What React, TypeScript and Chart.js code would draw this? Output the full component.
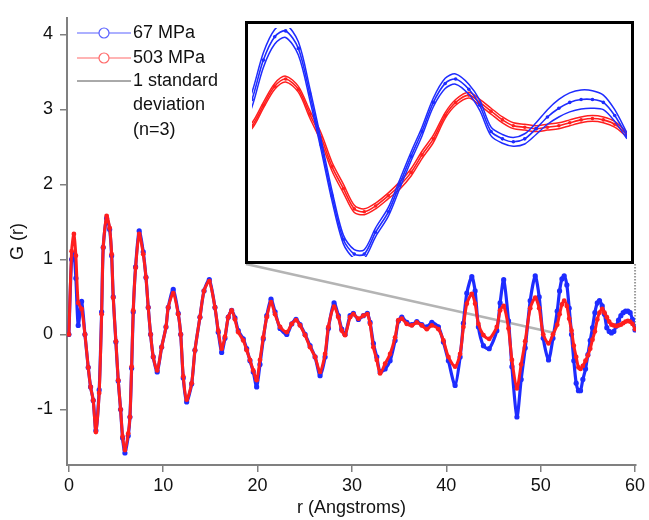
import React, { useEffect, useRef } from "react";
import { Chart, registerables } from "chart.js";
Chart.register(...registerables);

// r (Angstroms)
const rValues = [
  0, 0.29, 0.53, 0.74, 0.99, 1.35, 1.7, 2.05, 2.3, 2.58, 2.86, 3.21, 3.47, 3.64, 4.0, 4.32, 4.53, 4.7, 4.98, 5.23,
  5.48, 5.69, 5.94, 6.29, 6.47, 6.65, 6.82, 7.07, 7.45, 7.88, 8.17, 8.41, 8.66, 8.94, 9.36, 9.83, 10.29, 10.53, 11.06, 11.59,
  11.85, 12.12, 12.48, 13.01, 13.36, 13.89, 14.32, 14.88, 15.48, 15.83, 16.19, 16.54, 16.89, 17.25, 17.6, 17.95, 18.48, 18.84, 19.19, 19.54,
  19.9, 20.25, 20.6, 20.97, 21.42, 21.85, 22.38, 23.09, 23.62, 24.07, 24.5, 25.03, 25.56, 26.09, 26.62, 27.15, 27.5, 28.1, 28.56, 28.92,
  29.27, 29.8, 30.15, 30.68, 31.21, 31.63, 31.92, 32.27, 32.63, 32.98, 33.51, 34.04, 34.57, 34.92, 35.28, 35.81, 36.34, 36.87, 37.4, 37.93,
  38.46, 39.16, 39.69, 40.22, 40.93, 41.46, 41.81, 42.17, 42.7, 43.05, 43.4, 43.93, 44.54, 45.35, 45.7, 46.08, 46.59, 46.95, 47.48, 47.93,
  48.36, 48.89, 49.42, 49.84, 50.27, 50.83, 51.3, 51.75, 52.0, 52.25, 52.49, 52.77, 53.02, 53.27, 53.51, 53.76, 54.0, 54.22, 54.47, 54.75,
  55.0, 55.25, 55.49, 55.74, 56.0, 56.23, 56.52, 56.76, 57.01, 57.26, 57.5, 57.75, 58.0, 58.25, 58.5, 58.74, 58.99, 59.24, 59.48, 59.73, 60.0,
];

// G(r) at 67 MPa (blue)
const blue67 = [
  0, 1.0, 1.08, 0.75, 0.12, 0.44, 0.0, -0.44, -0.7, -0.88, -1.28, -0.74, 0.3, 1.16, 1.55, 1.4, 1.05, 0.5, -0.1, -0.62,
  -1.0, -1.38, -1.58, -1.35, -1.1, -0.45, 0.3, 0.9, 1.38, 1.1, 0.76, 0.36, 0.0, -0.3, -0.5, -0.17, 0.1, 0.36, 0.6, 0.28,
  0.0, -0.58, -0.9, -0.66, -0.21, 0.23, 0.58, 0.73, 0.36, 0.03, -0.24, -0.05, 0.23, 0.32, 0.22, 0.05, -0.06, -0.19, -0.35, -0.5,
  -0.7, -0.4, -0.06, 0.25, 0.47, 0.3, 0.08, 0.0, 0.14, 0.2, 0.13, 0.0, -0.15, -0.3, -0.55, -0.3, 0.08, 0.42, 0.25, 0.07,
  0.0, 0.25, 0.28, 0.2, 0.25, 0.28, 0.16, -0.12, -0.3, -0.5, -0.46, -0.35, -0.08, 0.18, 0.23, 0.16, 0.13, 0.17, 0.13, 0.1,
  0.16, 0.1, -0.1, -0.35, -0.68, -0.3, 0.15, 0.55, 0.77, 0.58, 0.1, -0.15, -0.19, 0.05, 0.42, 0.73, 0.18, -0.43, -1.1, -0.6,
  -0.18, 0.45, 0.78, 0.5, -0.05, -0.34, -0.05, 0.31, 0.58, 0.74, 0.78, 0.66, 0.35, 0.0, -0.35, -0.65, -0.75, -0.75, -0.6, -0.46,
  -0.27, -0.08, 0.09, 0.29, 0.42, 0.45, 0.38, 0.27, 0.09, 0.04, 0.02, 0.04, 0.11, 0.19, 0.25, 0.29, 0.31, 0.31, 0.29, 0.2, 0.06,
];

// G(r) at 503 MPa (red)
const red503 = [
  0, 1.11, 1.34, 1.05, 0.42, 0.34, 0.0, -0.44, -0.7, -0.88, -1.3, -0.78, 0.27, 1.16, 1.58, 1.42, 1.07, 0.49, -0.09, -0.61,
  -1.0, -1.36, -1.54, -1.32, -1.1, -0.43, 0.32, 0.89, 1.34, 1.07, 0.76, 0.36, 0.0, -0.3, -0.48, -0.17, 0.1, 0.36, 0.55, 0.27,
  0.0, -0.56, -0.87, -0.65, -0.21, 0.23, 0.58, 0.71, 0.36, 0.05, -0.19, -0.03, 0.23, 0.32, 0.2, 0.03, -0.08, -0.21, -0.34, -0.48,
  -0.61, -0.34, -0.04, 0.23, 0.43, 0.27, 0.1, 0.03, 0.14, 0.19, 0.12, -0.01, -0.17, -0.3, -0.5, -0.26, 0.1, 0.37, 0.23, 0.05,
  -0.01, 0.23, 0.27, 0.21, 0.25, 0.27, 0.14, -0.17, -0.34, -0.52, -0.39, -0.26, -0.04, 0.19, 0.21, 0.14, 0.12, 0.16, 0.12, 0.07,
  0.12, 0.07, -0.08, -0.3, -0.43, -0.26, 0.1, 0.41, 0.54, 0.41, 0.14, -0.01, -0.06, 0.1, 0.32, 0.38, 0.08, -0.34, -0.72, -0.4,
  -0.09, 0.35, 0.49, 0.35, 0.0, -0.12, 0.0, 0.13, 0.27, 0.4, 0.45, 0.38, 0.21, 0.05, -0.15, -0.3, -0.44, -0.46, -0.42, -0.35,
  -0.28, -0.19, -0.07, 0.04, 0.2, 0.29, 0.34, 0.29, 0.23, 0.17, 0.13, 0.12, 0.11, 0.12, 0.13, 0.15, 0.17, 0.18, 0.17, 0.14, 0.07,
];

// 1 standard deviation (n=3) for the points shown in the inset (r >= insetFrom)
const insetFrom = 51.3;
const blueSd = [
  0.04, 0.05, 0.05, 0.05, 0.045, 0.045, 0.04, 0.035, 0.035, 0.03, 0.03, 0.03, 0.03, 0.03, 0.03, 0.03, 0.03, 0.03,
  0.035, 0.035, 0.035, 0.035, 0.03, 0.03, 0.03, 0.035, 0.04, 0.05, 0.06, 0.065, 0.065, 0.06, 0.05, 0.04, 0.02,
];
const redSd = [
  0.015, 0.02, 0.02, 0.02, 0.02, 0.02, 0.025, 0.03, 0.03, 0.03, 0.025, 0.02, 0.02, 0.02, 0.025, 0.025, 0.025, 0.025,
  0.02, 0.02, 0.02, 0.02, 0.02, 0.02, 0.02, 0.02, 0.02, 0.02, 0.02, 0.02, 0.02, 0.02, 0.02, 0.02, 0.015,
];

const xTicks = [0, 10, 20, 30, 40, 50, 60];
const yTicks = [-1, 0, 1, 2, 3, 4];
const seriesLabels = ["67 MPa", "503 MPa"];
const sdLabel = ["1 standard", "deviation", "(n=3)"];
const xTitle = "r (Angstroms)";
const yTitle = "G (r)";

const BLUE = "#1e2cff";
const RED = "#ff1e1e";
const FONT = "'Liberation Sans', Arial, sans-serif";
const INSET = { left: 245, top: 21, width: 383, height: 237, border: 3 };

export default function App() {
  const mainRef = useRef<HTMLCanvasElement>(null);
  const insetRef = useRef<HTMLCanvasElement>(null);

  useEffect(() => {
    document.body.style.margin = "0";
    Chart.defaults.font.family = FONT;

    const pts = (ys: number[]) => rValues.map((x, i) => ({ x, y: ys[i] }));

    const legendPlugin = {
      id: "customLegend",
      afterDraw(chart: any) {
        const ctx = chart.ctx;
        ctx.save();
        ctx.font = `18px ${FONT}`;
        ctx.textBaseline = "middle";
        ctx.fillStyle = "#111";
        const rows = [
          { y: 33, color: "#5a62ff", label: seriesLabels[0] },
          { y: 58, color: "#ff6a6a", label: seriesLabels[1] },
        ];
        rows.forEach((r) => {
          ctx.strokeStyle = r.color;
          ctx.lineWidth = 1.2;
          ctx.beginPath();
          ctx.moveTo(77, r.y);
          ctx.lineTo(131, r.y);
          ctx.stroke();
          ctx.beginPath();
          ctx.fillStyle = "#fff";
          ctx.arc(104, r.y, 5, 0, Math.PI * 2);
          ctx.fill();
          ctx.stroke();
          ctx.fillStyle = "#111";
          ctx.fillText(r.label, 133, r.y);
        });
        ctx.strokeStyle = "#555";
        ctx.lineWidth = 1;
        ctx.beginPath();
        ctx.moveTo(77, 81);
        ctx.lineTo(131, 81);
        ctx.stroke();
        sdLabel.forEach((t, i) => ctx.fillText(t, 133, 81 + i * 24.5));
        ctx.restore();
      },
    };

    const connectorPlugin = {
      id: "connector",
      beforeDatasetsDraw(chart: any) {
        const { ctx, scales } = chart;
        const x = scales.x;
        const y = scales.y;
        const bottom = INSET.top + INSET.height + 2 * INSET.border;
        ctx.save();
        ctx.strokeStyle = "#b4b4b4";
        ctx.lineWidth = 2.5;
        ctx.beginPath();
        ctx.moveTo(INSET.left + 1, bottom);
        ctx.lineTo(x.getPixelForValue(insetFrom + 0.2), y.getPixelForValue(0.02));
        ctx.stroke();
        ctx.strokeStyle = "#9a9a9a";
        ctx.lineWidth = 2;
        ctx.setLineDash([1.5, 1.5]);
        ctx.beginPath();
        ctx.moveTo(x.getPixelForValue(60), bottom);
        ctx.lineTo(x.getPixelForValue(60), y.getPixelForValue(0.05));
        ctx.stroke();
        ctx.restore();
      },
    };

    const axisCommon = {
      grid: { drawOnChartArea: false, tickLength: 7, color: "#808080", lineWidth: 1.5 },
      border: { color: "#808080", width: 2 },
    };

    const main = new Chart(mainRef.current!, {
      type: "line",
      data: {
        datasets: [
          {
            label: seriesLabels[1],
            data: pts(red503),
            borderColor: RED,
            backgroundColor: RED,
            borderWidth: 3,
            pointRadius: 2.4,
            pointBorderWidth: 0,
            tension: 0.25,
          },
          {
            label: seriesLabels[0],
            data: pts(blue67),
            borderColor: BLUE,
            backgroundColor: BLUE,
            borderWidth: 3.2,
            pointRadius: 2.6,
            pointBorderWidth: 0,
            tension: 0.25,
          },
        ],
      },
      options: {
        animation: false,
        responsive: false,
        events: [],
        layout: { padding: { left: 0, right: 13, top: 13, bottom: 0 } },
        plugins: { legend: { display: false }, tooltip: { enabled: false } },
        scales: {
          x: {
            type: "linear",
            min: -0.2,
            max: 60.1,
            afterBuildTicks: (s: any) => {
              s.ticks = xTicks.map((v) => ({ value: v }));
            },
            afterFit: (s: any) => {
              s.height = 55;
            },
            ticks: { font: { size: 18 }, color: "#111", padding: 3, maxRotation: 0, autoSkip: false },
            title: { display: true, text: xTitle, font: { size: 18 }, color: "#111", padding: { top: 0, bottom: 1 } },
            ...axisCommon,
          },
          y: {
            type: "linear",
            min: -1.74,
            max: 4.22,
            afterBuildTicks: (s: any) => {
              s.ticks = yTicks.map((v) => ({ value: v }));
            },
            afterFit: (s: any) => {
              s.width = 67;
            },
            ticks: { font: { size: 18 }, color: "#111", padding: 7 },
            title: { display: true, text: yTitle, font: { size: 18 }, color: "#111", padding: { top: 7, bottom: 0 } },
            ...axisCommon,
          },
        },
      },
      plugins: [connectorPlugin, legendPlugin],
    } as any);

    // Inset: zoom of the last part of the curves with +/- 1 SD lines
    const insetIdx = rValues.map((r, i) => (r >= insetFrom ? i : -1)).filter((i) => i >= 0);
    const band = (ys: number[], sd: number[], sign: number) =>
      insetIdx.map((idx, k) => ({ x: rValues[idx], y: ys[idx] + sign * sd[k] }));
    const mean = (ys: number[]) => insetIdx.map((idx) => ({ x: rValues[idx], y: ys[idx] }));
    const thin = (color: string, data: any[]) => ({
      data,
      borderColor: color,
      borderWidth: 1.5,
      pointRadius: 0,
      tension: 0.3,
    });
    const meanSet = (color: string, data: any[]) => ({
      data,
      borderColor: color,
      backgroundColor: color,
      borderWidth: 1.6,
      pointRadius: 1.8,
      pointBorderWidth: 0,
      tension: 0.3,
    });

    const inset = new Chart(insetRef.current!, {
      type: "line",
      data: {
        datasets: [
          meanSet(BLUE, mean(blue67)),
          thin(BLUE, band(blue67, blueSd, 1)),
          thin(BLUE, band(blue67, blueSd, -1)),
          meanSet(RED, mean(red503)),
          thin(RED, band(red503, redSd, 1)),
          thin(RED, band(red503, redSd, -1)),
        ],
      },
      options: {
        animation: false,
        responsive: false,
        events: [],
        layout: { padding: 0 },
        plugins: { legend: { display: false }, tooltip: { enabled: false } },
        scales: {
          x: { type: "linear", min: 51.75, max: 60, display: false },
          y: { type: "linear", min: -0.77, max: 0.8, display: false },
        },
      },
    } as any);

    return () => {
      main.destroy();
      inset.destroy();
    };
  }, []);

  return (
    <div style={{ position: "relative", width: 649, height: 520, background: "#fff" }}>
      <canvas ref={mainRef} width={649} height={520} style={{ display: "block" }} />
      <div
        style={{
          position: "absolute",
          left: INSET.left,
          top: INSET.top,
          width: INSET.width,
          height: INSET.height,
          border: `${INSET.border}px solid #000`,
          background: "#fff",
        }}
      >
        <canvas ref={insetRef} width={INSET.width} height={INSET.height} style={{ display: "block" }} />
      </div>
    </div>
  );
}
